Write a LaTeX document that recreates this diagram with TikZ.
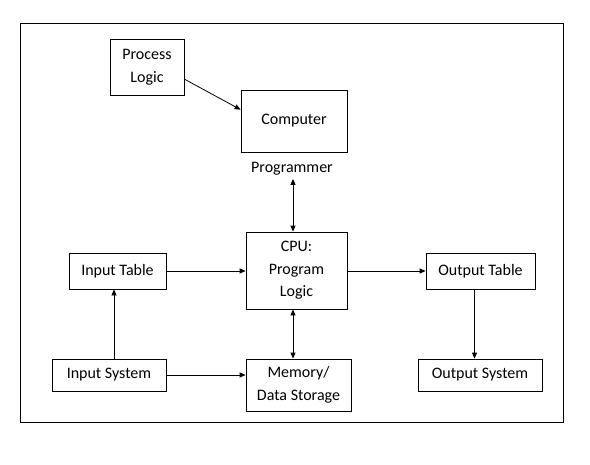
\documentclass[tikz,border=0pt]{standalone}
\usepackage{fontspec}
\setmainfont{Carlito}
\usetikzlibrary{arrows.meta}
\begin{document}
\begin{tikzpicture}[x=1pt, y=-1pt, line width=0.8pt,
  box/.style={draw, inner sep=0pt, align=center, font=\fontsize{16}{22.5}\selectfont},
  >={Triangle[length=6pt, width=5pt]}]
\useasboundingbox (0,0) rectangle (590,464);
\draw (20,23) rectangle (563,422);

\node[box, minimum width=74pt, minimum height=56pt] (proc) at (147,67) {Process\\ Logic};
\node[box, minimum width=106pt, minimum height=62pt] (comp) at (294,121) {Computer};
\node[box, draw=none, inner sep=3pt] (prog) at (292,169) {Programmer};
\node[box, minimum width=101pt, minimum height=77pt] (cpu) at (296.5,270.5) {CPU:\\ Program\\ Logic};
\node[box, minimum width=97pt, minimum height=36pt] (intab) at (117.5,271) {Input Table};
\node[box, minimum width=109pt, minimum height=36pt] (outtab) at (480.5,271) {Output Table};
\node[box, minimum width=114pt, minimum height=32pt] (insys) at (109,375) {Input System};
\node[box, minimum width=105pt, minimum height=52pt] (mem) at (298.5,385) {Memory/\\ Data Storage};
\node[box, minimum width=124pt, minimum height=32pt] (outsys) at (480,375) {Output System};

\draw[->] (proc.-18) -- (comp.168);
\draw[<->] ([xshift=1pt]prog.south) -- ([xshift=1pt]prog.south |- cpu.north);
\draw[->] (intab.east) -- (intab.east -| cpu.west);
\draw[->] (cpu.east |- outtab.west) -- (outtab.west);
\draw[->] ([xshift=-6pt]outtab.south) -- ([xshift=-6pt]outtab.south |- outsys.north);
\draw[->] ([xshift=-3.5pt]intab.south |- insys.north) -- ([xshift=-3.5pt]intab.south);
\draw[->] (insys.east) -- (insys.east -| mem.west);
\draw[<->] ([xshift=-3.5pt]cpu.south) -- ([xshift=-3.5pt]cpu.south |- mem.north);
\end{tikzpicture}
\end{document}
